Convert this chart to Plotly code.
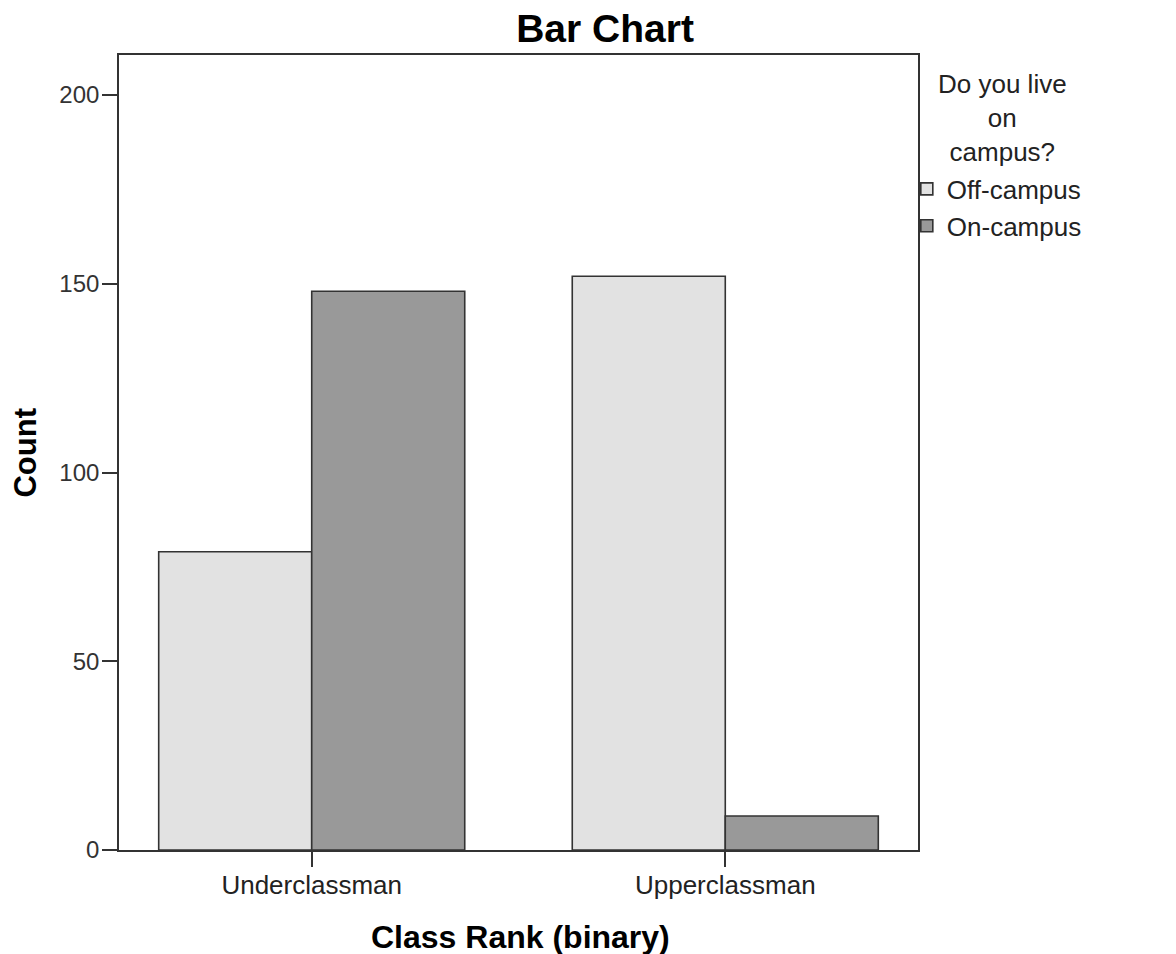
import plotly.graph_objects as go

categories = ["Underclassman", "Upperclassman"]
off_campus = [79, 152]
on_campus = [148, 9]
series_names = ["Off-campus", "On-campus"]
y_ticks = [0, 50, 100, 150, 200]

FONT = "Liberation Sans, Arial, sans-serif"

fig = go.Figure()
fig.add_trace(go.Bar(x=categories, y=off_campus, name=series_names[0],
                     marker=dict(color="#e2e2e2", line=dict(color="#333333", width=1.6))))
fig.add_trace(go.Bar(x=categories, y=on_campus, name=series_names[1],
                     marker=dict(color="#999999", line=dict(color="#333333", width=1.6))))

fig.update_layout(
    width=1176, height=954,
    paper_bgcolor="white", plot_bgcolor="white",
    margin=dict(l=111, r=266, t=47, b=112),
    barmode="group", bargap=0.26, bargroupgap=0,
    font=dict(family=FONT, size=25, color="#222222"),
    title=dict(text="<b>Bar Chart</b>", x=0.5077, xanchor="center", xref="container",
               y=0.979, yanchor="middle", yref="container",
               font=dict(family=FONT, size=39, color="#000000")),
    showlegend=True,
    legend=dict(x=0.986, xanchor="left", y=0.861, yanchor="top",
                font=dict(family=FONT, size=26, color="#222222"),
                bgcolor="rgba(0,0,0,0)", borderwidth=0, tracegroupgap=0, itemwidth=30),
    annotations=[
        dict(text="Do you live<br>on<br>campus?", xref="paper", yref="paper",
             x=1.106, y=0.985, xanchor="center", yanchor="top", showarrow=False, align="center",
             font=dict(family=FONT, size=26, color="#222222")),
        dict(text="<b>Class Rank (binary)</b>", xref="paper", yref="paper",
             x=0.502, y=-0.1094, xanchor="center", yanchor="middle", showarrow=False,
             font=dict(family=FONT, size=32, color="#000000")),
        dict(text="<b>Count</b>", xref="paper", yref="paper", textangle=-90,
             x=-0.1176, y=0.5, xanchor="center", yanchor="middle", showarrow=False,
             font=dict(family=FONT, size=31, color="#000000")),
    ],
)
fig.update_xaxes(range=[-0.466, 1.466], showline=True, linecolor="#333333", linewidth=1.6, mirror=True,
                 ticks="outside", ticklen=15, tickcolor="#333333", tickwidth=1.6, automargin=False,
                 ticklabelstandoff=-4,
                 tickfont=dict(family=FONT, size=26, color="#222222"), showgrid=False)
fig.update_yaxes(range=[0, 210.6], tickvals=y_ticks, showline=True, linecolor="#333333", linewidth=1.6, mirror=True,
                 ticks="outside", ticklen=15, tickcolor="#333333", tickwidth=1.6, showgrid=False, zeroline=False,
                 automargin=False, ticklabelstandoff=-2, tickfont=dict(family=FONT, size=24, color="#333333"))

fig.write_html("out.html")
